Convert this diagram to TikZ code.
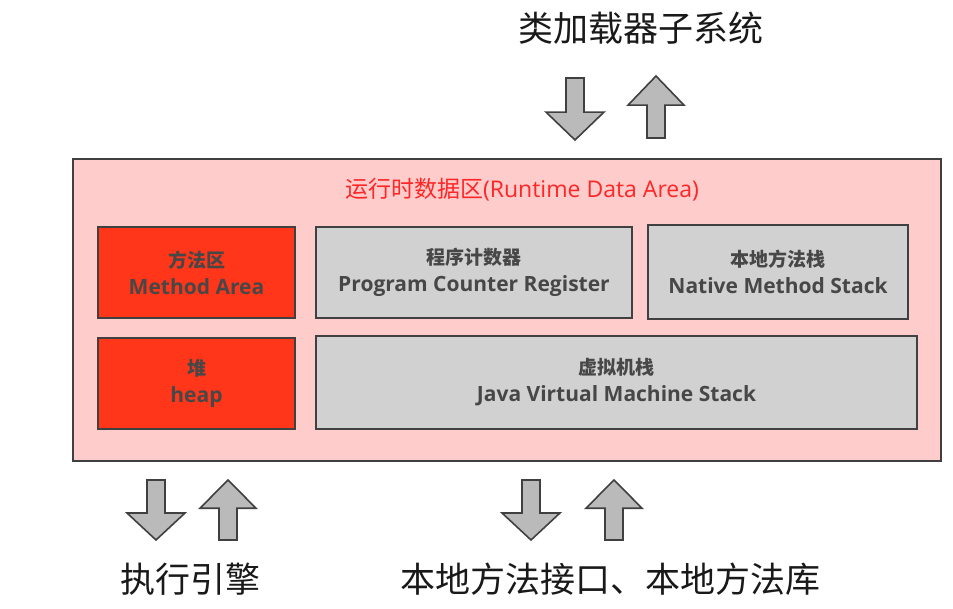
\documentclass[tikz,border=0pt]{standalone}
\usepackage{fontspec}
\setmainfont{Open Sans}
\newfontfamily\cjk{Noto Sans CJK SC}
\begin{document}
\begin{tikzpicture}[x=1pt,y=-1pt,
  region/.style={draw=black!75,line width=2pt},
  redbox/.style={region,fill=red!75!orange!90!white,text=black!75},
  graybox/.style={region,fill=black!18,text=black!75},
  boxtext/.style={align=center,font=\fontsize{21}{27}\selectfont\bfseries,text=black!72},
  bigarrow/.style={draw=black!75,line width=1.6pt,fill=black!27,line join=miter},
  label/.style={font=\cjk\fontsize{35}{38}\selectfont,text=black!90}]
\useasboundingbox (0,0) rectangle (953,609);
% outer region
\node[region,fill=red!20,minimum width=868,minimum height=302,anchor=north west,inner sep=0] (rda) at (72,158) {};
\node[font=\fontsize{23}{25}\selectfont,text=red!85] (title) at (522,190) {{\cjk 运行时数据区}(Runtime Data Area)};
% inner boxes
\node[redbox,minimum width=197,minimum height=91,anchor=north west,inner sep=0] (ma) at (97,226) {};
\node[boxtext] at (ma) {{\cjk\fontsize{19}{27}\selectfont 方法区}\\Method Area};
\node[graybox,minimum width=316,minimum height=91,anchor=north west,inner sep=0] (pc) at (315,226) {};
\node[boxtext] at (pc) {{\cjk\fontsize{19}{27}\selectfont 程序计数器}\\Program Counter Register};
\node[graybox,minimum width=260,minimum height=94,anchor=north west,inner sep=0] (ns) at (647,224) {};
\node[boxtext] at (ns) {{\cjk\fontsize{19}{27}\selectfont 本地方法栈}\\Native Method Stack};
\node[redbox,minimum width=197,minimum height=91,anchor=north west,inner sep=0] (hp) at (97,337) {};
\node[boxtext] at (hp) {{\cjk\fontsize{19}{27}\selectfont 堆}\\heap};
\node[graybox,minimum width=601,minimum height=93,anchor=north west,inner sep=0] (jvm) at (315,335) {};
\node[boxtext] at (jvm) {{\cjk\fontsize{19}{27}\selectfont 虚拟机栈}\\Java Virtual Machine Stack};
% labels
\node[label] (cl) at (641,28) {类加载器子系统};
\node[label] (ee) at (190,579) {执行引擎};
\node[label] (ni) at (610,579) {本地方法接口、本地方法库};
% arrows
\newcommand{\downarr}[3]{\draw[bigarrow] (#1-9,#2) -- (#1+9,#2) -- (#1+9,#2+0.55*#3-0.55*#2) -- (#1+29,#2+0.55*#3-0.55*#2) -- (#1,#3) -- (#1-29,#2+0.55*#3-0.55*#2) -- (#1-9,#2+0.55*#3-0.55*#2) -- cycle;}
\newcommand{\uparr}[3]{\draw[bigarrow] (#1-9,#3) -- (#1+9,#3) -- (#1+9,#2+0.47*#3-0.47*#2) -- (#1+28,#2+0.47*#3-0.47*#2) -- (#1,#2) -- (#1-28,#2+0.47*#3-0.47*#2) -- (#1-9,#2+0.47*#3-0.47*#2) -- cycle;}
\downarr{575}{78}{140}
\uparr{656}{76}{138}
\downarr{156}{480}{540}
\uparr{228}{480}{540}
\downarr{531}{480}{540}
\uparr{614}{480}{540}
\end{tikzpicture}
\end{document}
